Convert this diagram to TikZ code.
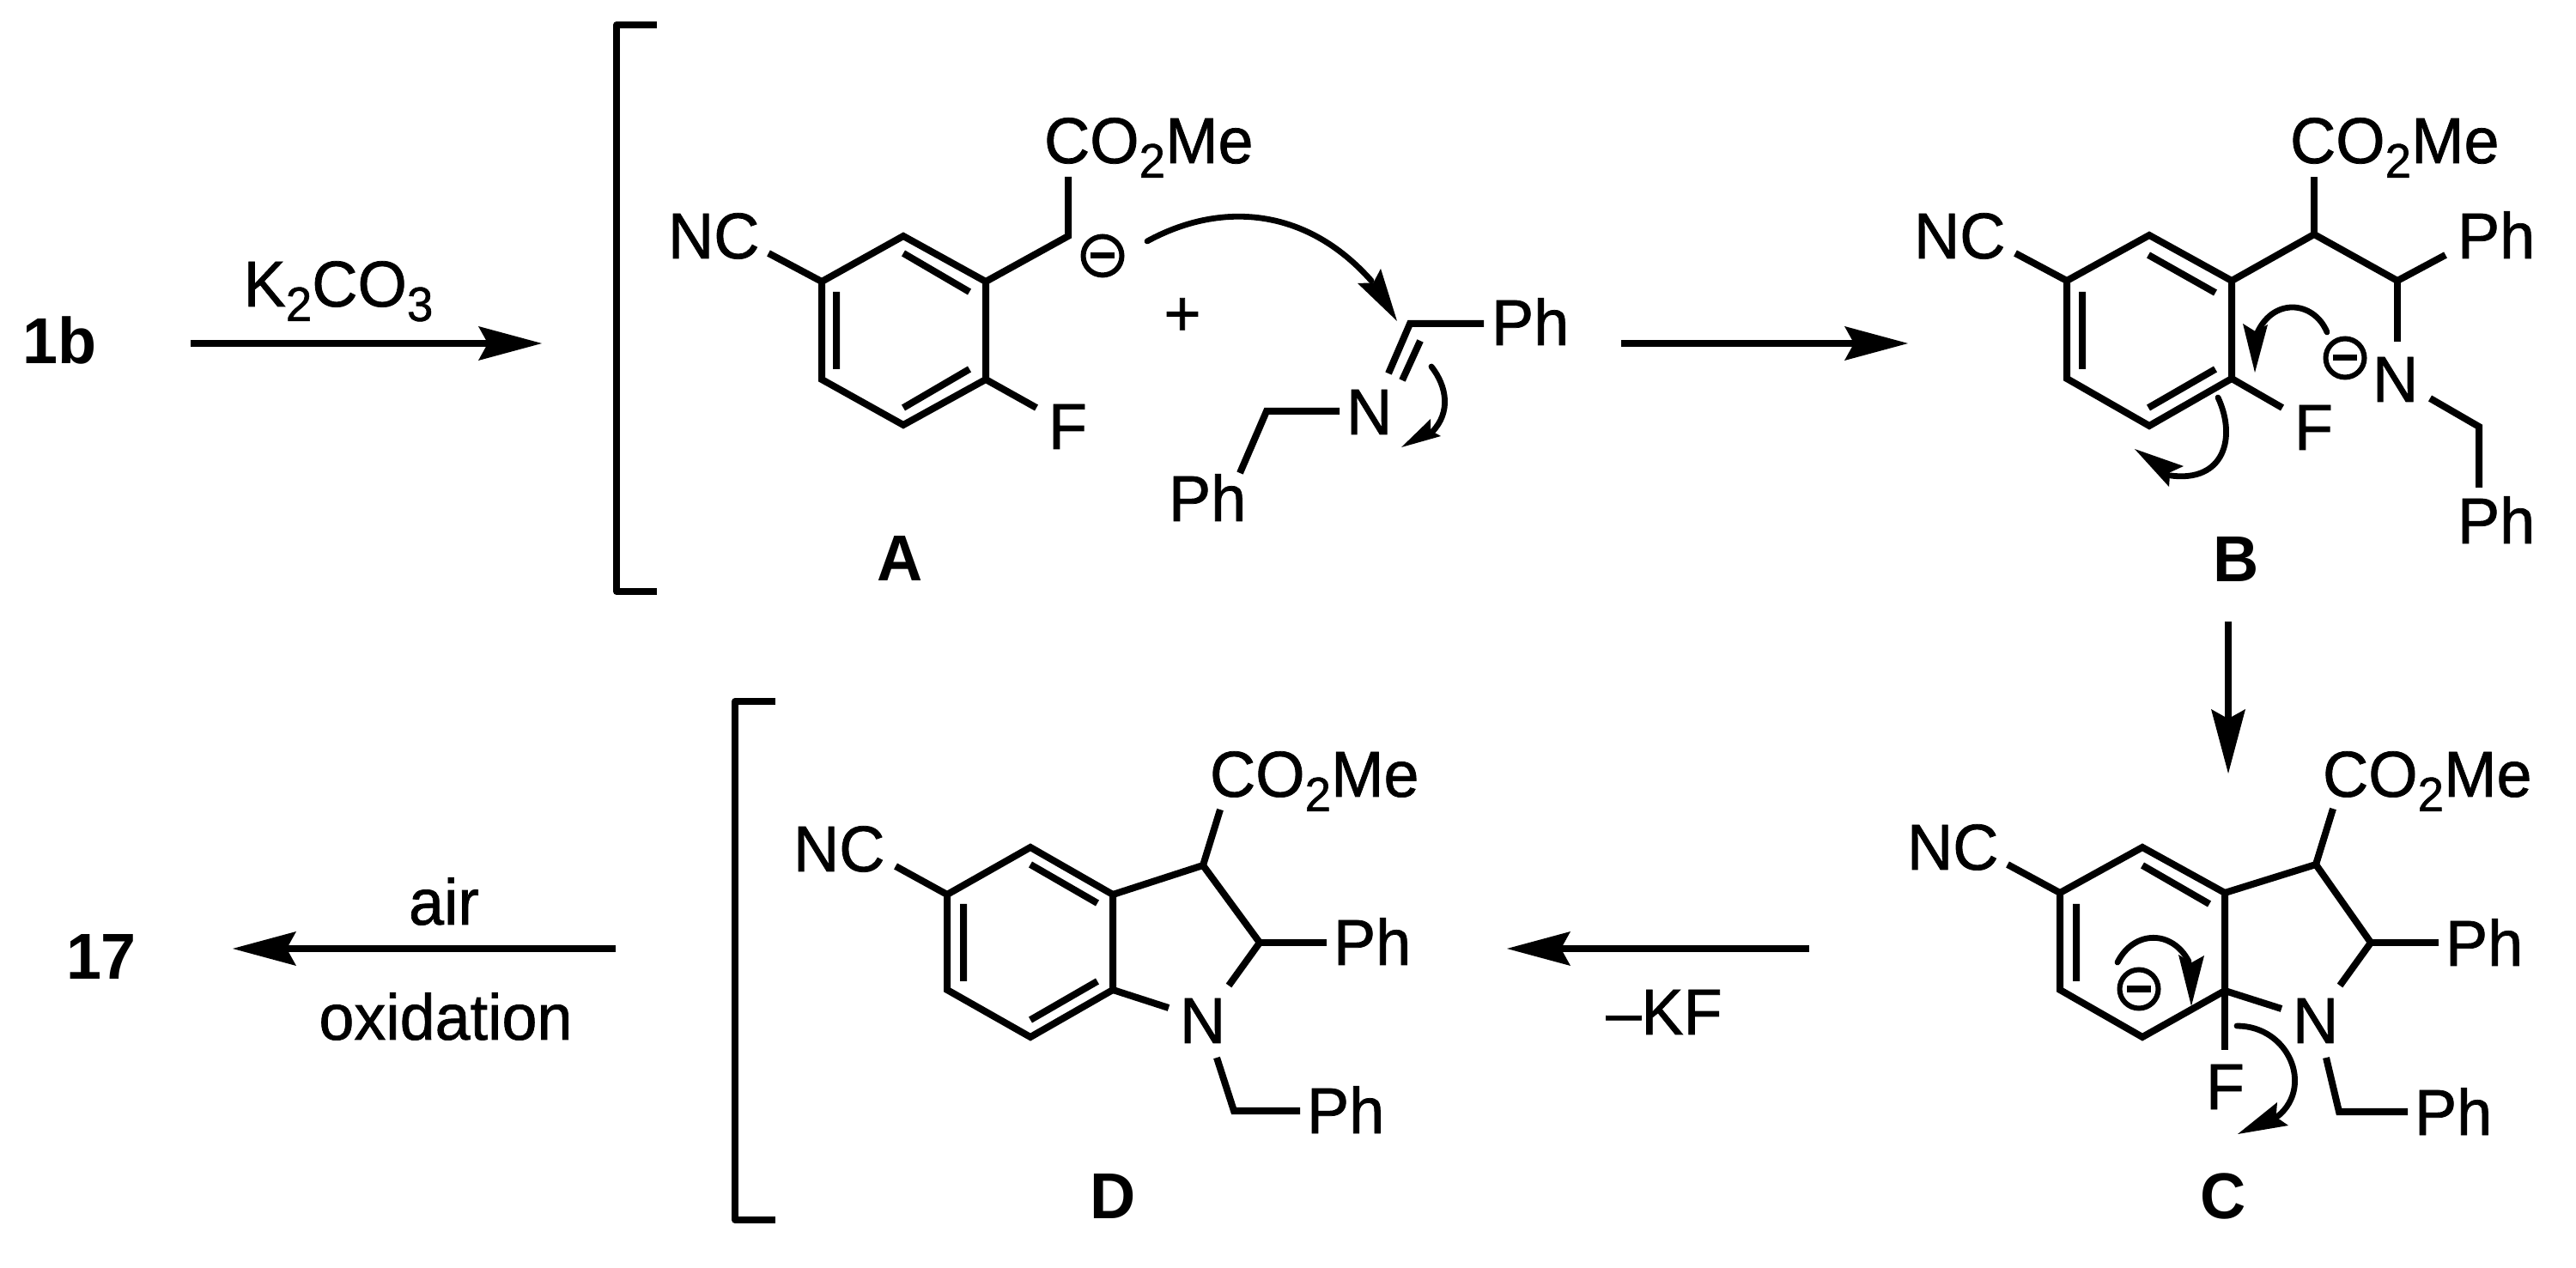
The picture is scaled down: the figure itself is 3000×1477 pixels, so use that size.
\documentclass[tikz,border=0pt]{standalone}
\usepackage{fontspec}
\setmainfont[FakeStretch=0.975]{Liberation Sans}
\usetikzlibrary{calc}
\newcommand{\subs}[1]{\raisebox{-4.8pt}{\fontsize{16}{16}\selectfont #1}}
\newcommand{\headd}[3]{\fill #1 -- #2 -- ($#2!.5!#3!.15!#1$) -- #3 -- cycle;}
\newcommand{\minuscirc}[1]{\draw[circ] #1 circle (22.5); \draw[minusbar] ($#1+(-14,0)$) -- ($#1+(14,0)$);}
\tikzset{
  lbl/.style={inner sep=0pt,outer sep=0pt,font=\fontsize{21.5}{21.5}\selectfont\addfontfeature{FakeBold=1},anchor=base west},
  clbl/.style={lbl,anchor=base},
  blbl/.style={inner sep=0pt,outer sep=0pt,anchor=base,font=\fontsize{21.5}{21.5}\selectfont\bfseries},
  bond/.style={line width=0.08cm,line join=miter,line cap=butt},
  bracket/.style={line width=0.08cm,line join=round},
  rxn/.style={line width=0.08cm},
  curved/.style={line width=0.068cm,line cap=round},
  circ/.style={line width=0.06cm},
  minusbar/.style={line width=0.07cm},
}
\begin{document}
\begin{tikzpicture}[x=0.01cm,y=-0.01cm]
\useasboundingbox (0,0) rectangle (3000,1477);
% -------- top left
\node[blbl] (l1b) at (70,424) {1b};
\node[clbl] (k2co3) at (394,357) {K\subs{2}CO\subs{3}};
\coordinate (r1s) at (222,400); \coordinate (r1t) at (631,400);
\draw[rxn] (r1s) -- (572,400);
\headd{(r1t)}{(557,380)}{(557,420)}
% -------- bracket A
\coordinate (bA1) at (765,29); \coordinate (bA2) at (718,29);
\coordinate (bA3) at (718,689); \coordinate (bA4) at (765,689);
\draw[bracket] (bA1) -- (bA2) -- (bA3) -- (bA4);
% -------- A
\coordinate (a1) at (1052,275); \coordinate (a2) at (1148,328); \coordinate (a3) at (1148,442);
\coordinate (a4) at (1052,495); \coordinate (a5) at (957,442); \coordinate (a6) at (957,328);
\draw[bond] (a1) -- (a2) -- (a3) -- (a4) -- (a5) -- (a6) -- cycle;
\draw[bond] (974,340) -- (974,430) (1052,295) -- (1129,340) (1129,430) -- (1052,475);
\node[lbl] (ncA) at (778,301) {NC};
\node[lbl] (esA) at (1216,190) {CO\subs{2}Me};
\node[lbl] (fA) at (1221,523) {F};
\coordinate (aCH) at (1244,275);
\draw[bond] (895,295) -- (a6);
\draw[bond] (a2) -- (aCH) -- (1244,206);
\draw[bond] (a3) -- (1207,475);
\minuscirc{(1284,298)}
\node[clbl] (plus) at (1377,391) {+};
\coordinate (iC) at (1642,377);
\node[lbl] (phA1) at (1737,402) {Ph};
\node[lbl] (nA) at (1568,506) {N};
\node[lbl] (phA2) at (1361,607) {Ph};
\coordinate (iCH2) at (1475,479);
\draw[bond] (1728,377) -- (iC) -- (1617,435);
\draw[bond] (1654,397) -- (1633,443);
\draw[bond] (1560,479) -- (iCH2) -- (1444,551);
\draw[curved] (1336,281) .. controls (1420,235) and (1520,240) .. (1597,327);
\headd{(1627,374)}{(1608,313)}{(1581,330)}
\draw[curved] (1667,427) .. controls (1685,450) and (1690,480) .. (1668,503);
\headd{(1632,521)}{(1666,488)}{(1678,508)}
\node[blbl] (lA) at (1048,677) {A};
% -------- arrow A -> B
\coordinate (r2s) at (1888,400); \coordinate (r2t) at (2222,400);
\draw[rxn] (r2s) -- (2165,400);
\headd{(r2t)}{(2148,380)}{(2148,420)}
% -------- B
\coordinate (b1) at (2503,274); \coordinate (b2) at (2599,327); \coordinate (b3) at (2599,441);
\coordinate (b4) at (2503,496); \coordinate (b5) at (2407,441); \coordinate (b6) at (2407,327);
\draw[bond] (b1) -- (b2) -- (b3) -- (b4) -- (b5) -- (b6) -- cycle;
\draw[bond] (2425,340) -- (2425,430) (2502,297) -- (2580,341) (2580,430) -- (2502,475);
\node[lbl] (ncB) at (2229,301) {NC};
\node[lbl] (esB) at (2667,190) {CO\subs{2}Me};
\node[lbl] (phB1) at (2862,301) {Ph};
\node[lbl] (nB) at (2763,468) {N};
\node[lbl] (phB2) at (2862,633) {Ph};
\node[lbl] (fB) at (2672,524) {F};
\coordinate (bCa) at (2695,273); \coordinate (bCb) at (2792,327); \coordinate (bCH2) at (2887,497);
\draw[bond] (2347,295) -- (b6);
\draw[bond] (b2) -- (bCa) -- (bCb) -- (2848,297);
\draw[bond] (bCa) -- (2695,206);
\draw[bond] (bCb) -- (2792,398);
\draw[bond] (2830,464) -- (bCH2) -- (2887,568);
\draw[bond] (b3) -- (2658,475);
\minuscirc{(2731,417)}
\draw[curved] (2710,387) .. controls (2695,350) and (2645,345) .. (2627,392);
\headd{(2626,434)}{(2612,377)}{(2641,378)}
\draw[curved] (2583,463) .. controls (2605,510) and (2590,562) .. (2528,554);
\headd{(2486,523)}{(2543,543)}{(2526,567)}
\node[blbl] (lB) at (2604,678) {B};
% -------- arrow B -> C
\coordinate (r3s) at (2595,724); \coordinate (r3t) at (2595,901);
\draw[rxn] (r3s) -- (2595,843);
\headd{(r3t)}{(2575,826)}{(2615,826)}
% -------- C
\coordinate (c1) at (2495,987); \coordinate (c2) at (2591,1040); \coordinate (c3) at (2591,1154);
\coordinate (c4) at (2495,1208); \coordinate (c5) at (2399,1153); \coordinate (c6) at (2399,1040);
\draw[bond] (c1) -- (c2) -- (c3) -- (c4) -- (c5) -- (c6) -- cycle;
\draw[bond] (2418,1053) -- (2418,1143) (2495,1008) -- (2573,1053);
\node[lbl] (ncC) at (2221,1013) {NC};
\node[lbl] (esC) at (2705,928) {CO\subs{2}Me};
\node[lbl] (phC1) at (2848,1125) {Ph};
\node[lbl] (nC) at (2670,1215) {N};
\node[lbl] (phC2) at (2812,1322) {Ph};
\node[lbl] (fC) at (2569,1292) {F};
\coordinate (cC3) at (2697,1007); \coordinate (cC2) at (2761,1098); \coordinate (cCH2) at (2724,1295);
\draw[bond] (2338,1007) -- (c6);
\draw[bond] (c2) -- (cC3) -- (cC2) -- (2725,1148);
\draw[bond] (cC3) -- (2717,942);
\draw[bond] (cC2) -- (2840,1098);
\draw[bond] (c3) -- (2657,1175);
\draw[bond] (c3) -- (2591,1223);
\draw[bond] (2709,1232) -- (cCH2) -- (2804,1295);
\minuscirc{(2491,1152)}
\draw[curved] (2466,1121) .. controls (2485,1083) and (2530,1083) .. (2549,1120);
\headd{(2552,1172)}{(2537,1112)}{(2567,1113)}
\draw[curved] (2605,1195) .. controls (2665,1195) and (2695,1265) .. (2653,1300);
\headd{(2606,1321)}{(2652,1284)}{(2665,1311)}
\node[blbl] (lC) at (2589,1419) {C};
% -------- arrow C -> D
\coordinate (r4s) at (2107,1105); \coordinate (r4t) at (1755,1105);
\draw[rxn] (r4s) -- (1812,1105);
\headd{(r4t)}{(1829,1085)}{(1829,1125)}
\node[clbl] (kf) at (1938,1205) {–KF};
% -------- bracket D
\coordinate (bD1) at (903,817); \coordinate (bD2) at (856,817);
\coordinate (bD3) at (856,1421); \coordinate (bD4) at (903,1421);
\draw[bracket] (bD1) -- (bD2) -- (bD3) -- (bD4);
% -------- D
\coordinate (d1) at (1200,987); \coordinate (d2) at (1296,1042); \coordinate (d3) at (1296,1153);
\coordinate (d4) at (1200,1208); \coordinate (d5) at (1103,1153); \coordinate (d6) at (1103,1042);
\draw[bond] (d1) -- (d2) -- (d3) -- (d4) -- (d5) -- (d6) -- cycle;
\draw[bond] (1122,1053) -- (1122,1143) (1200,1007) -- (1278,1052) (1278,1143) -- (1200,1188);
\node[lbl] (ncD) at (924,1015) {NC};
\node[lbl] (esD) at (1409,928) {CO\subs{2}Me};
\node[lbl] (phD1) at (1553,1124) {Ph};
\node[lbl] (nD) at (1374,1215) {N};
\node[lbl] (phD2) at (1522,1320) {Ph};
\coordinate (dC3) at (1401,1008); \coordinate (dC2) at (1467,1098); \coordinate (dCH2) at (1437,1294);
\draw[bond] (1043,1009) -- (d6);
\draw[bond] (d2) -- (dC3) -- (dC2) -- (1431,1148);
\draw[bond] (dC3) -- (1421,943);
\draw[bond] (dC2) -- (1545,1098);
\draw[bond] (d3) -- (1361,1174);
\draw[bond] (1417,1232) -- (dCH2) -- (1514,1294);
\node[blbl] (lD) at (1296,1419) {D};
% -------- arrow D -> 17
\coordinate (r5s) at (717,1105); \coordinate (r5t) at (271,1105);
\draw[rxn] (r5s) -- (328,1105);
\headd{(r5t)}{(345,1085)}{(345,1125)}
\node[clbl] (air) at (517,1077) {air};
\node[clbl] (ox) at (519,1211) {oxidation};
\node[blbl] (l17) at (118,1140) {17};
\end{tikzpicture}
\end{document}
